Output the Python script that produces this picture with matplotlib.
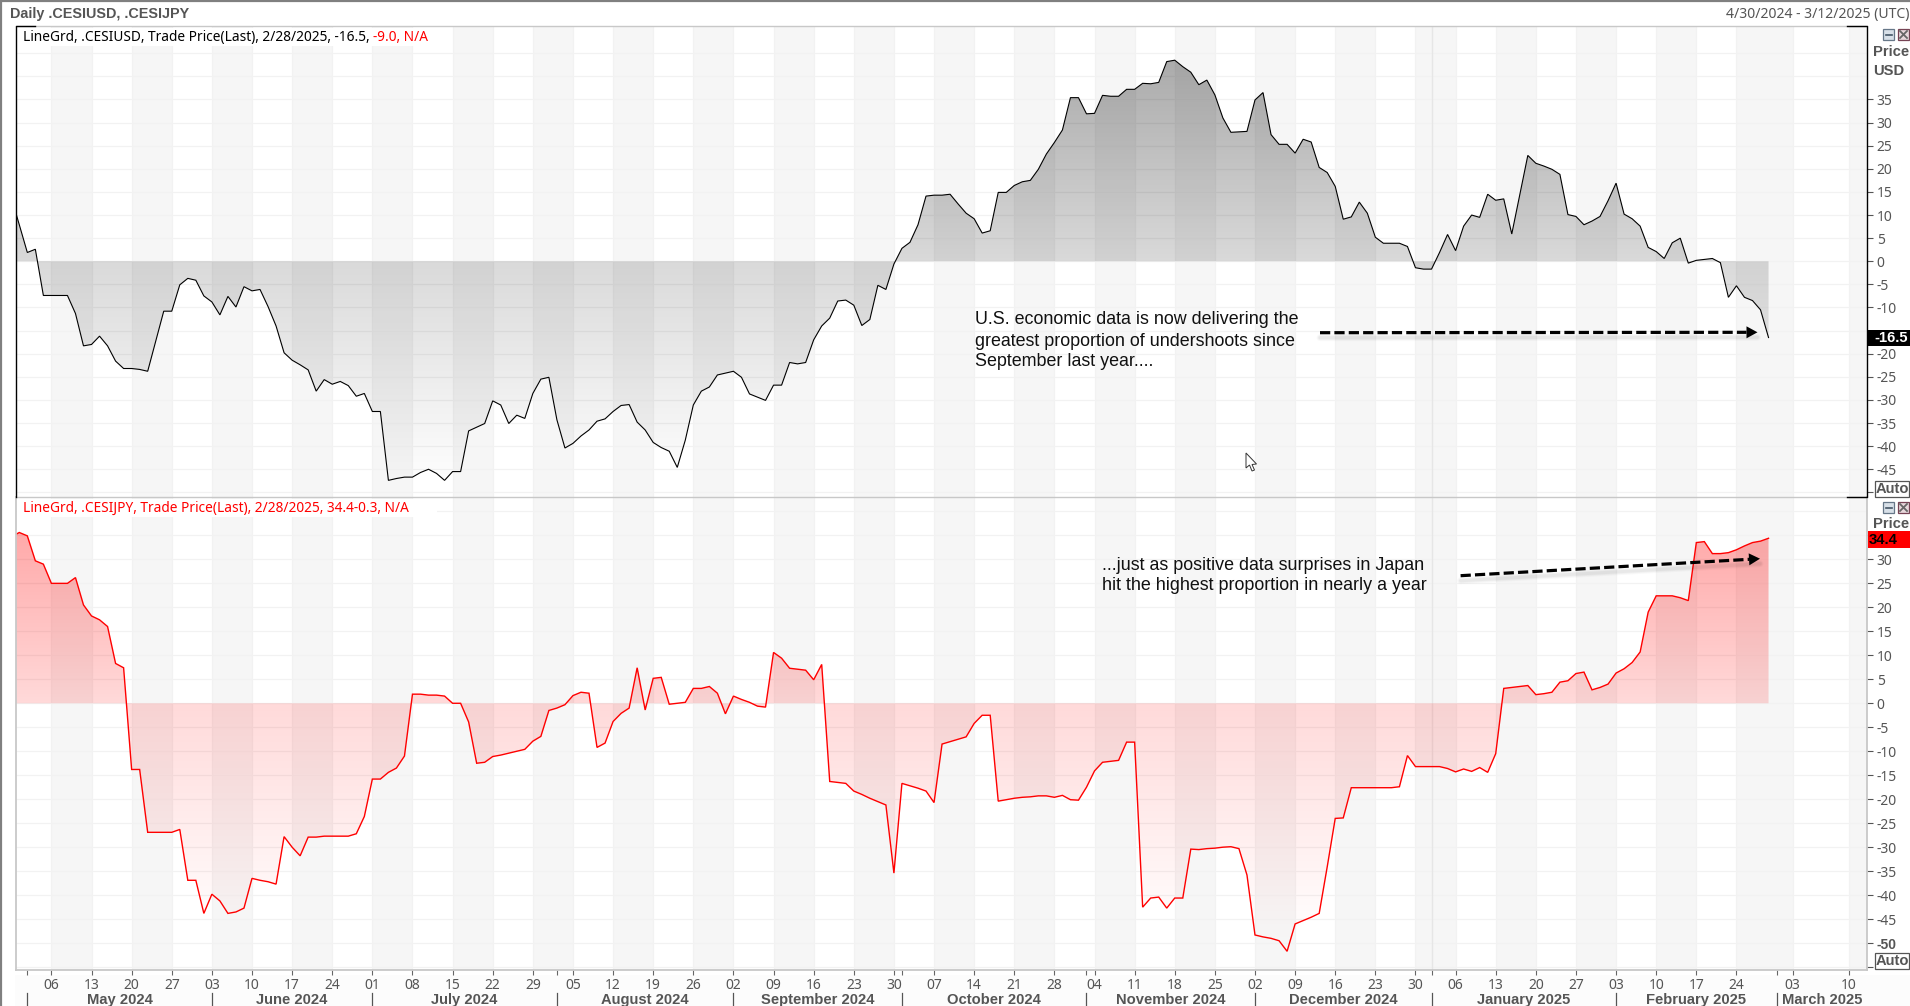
import numpy as np
import pandas as pd
import matplotlib
matplotlib.use("Agg")
import matplotlib.pyplot as plt
from matplotlib.patches import Rectangle, Polygon
from matplotlib.transforms import blended_transform_factory

plt.rcParams['font.family'] = ['Noto Sans', 'DejaVu Sans']
BOLD = ['Liberation Sans', 'DejaVu Sans']

W, H = 1910, 1006
dates = pd.bdate_range('2024-04-29', '2025-02-28')
last_date = dates[-1]

usd_values = [
 13.8, 7.9, 1.9, 2.6, -7.4, -7.4, -7.4, -7.4, -11.3, -18.3, -18.0, -16.2, -18.3, -21.6, -23.2, -23.2,
 -23.4, -23.8, -17.3, -10.8, -10.8, -5.1, -3.7, -4.1, -7.5, -8.8, -11.6, -7.6, -9.9, -5.5, -6.4, -6.1,
 -9.8, -14.0, -19.8, -21.4, -22.4, -23.5, -28.1, -25.6, -26.6, -26.0, -26.9, -29.2, -28.6, -32.5, -32.5, -47.4,
 -47.0, -46.7, -46.7, -45.7, -45.0, -45.9, -47.4, -45.5, -45.5, -36.7, -35.9, -35.1, -30.2, -31.1, -35.1, -33.3,
 -34.0, -28.6, -25.5, -25.1, -34.3, -40.4, -39.4, -37.8, -36.5, -34.6, -34.1,
 -32.5, -31.2, -31.0, -34.8, -36.5, -39.2, -40.3, -41.1, -44.6, -38.7, -31.1, -28.1, -27.2, -24.6, -24.2, -23.8,
 -25.1, -28.7, -29.4, -30.1, -26.8, -26.8, -21.9, -22.2, -21.9, -17.0, -14.0, -12.3, -8.6, -8.4, -9.5, -13.9,
 -12.6, -5.2, -6.1, -0.6, 2.8, 4.1, 7.9, 14.1, 14.3, 14.3, 14.5, 12.4, 10.4, 9.2, 6.1, 6.6,
 14.9, 14.9, 16.4, 17.2, 17.5, 19.9, 23.2, 25.7, 28.4, 35.4, 35.4, 31.9, 32.0, 35.9, 35.7, 35.7,
 37.2, 37.2, 38.5, 38.4, 38.7, 43.2, 43.5, 42.1, 40.9, 38.2, 39.2, 36.0, 31.0, 27.9, 28.0, 28.1,
 34.9, 36.5, 27.4, 25.3, 25.3, 23.4, 26.4, 25.8, 20.3, 19.2, 16.2, 9.1, 9.6, 12.8, 10.4, 5.2,
 3.9, 3.9, 3.9, 3.2, -1.4, -1.7, -1.7, 1.9, 5.8, 2.3, 7.6, 10.0, 9.5, 14.5, 13.2, 13.5,
 5.9, 14.4, 22.9, 21.2, 20.6, 19.9, 18.8, 10.1, 9.7, 7.9, 8.7, 9.7, 13.1, 16.9, 10.2, 9.2,
 7.6, 3.0, 2.1, 0.6, 4.0, 5.0, -0.4, 0.2, 0.4, 0.6, -0.3, -7.8, -5.3, -7.8, -8.5, -10.5, -16.5,
]

jpy_values = [
 34.7, 35.6, 34.9, 29.7, 29.0, 25.0, 25.0, 25.0, 26.2, 20.5, 18.2, 17.4, 16.0, 8.3, 7.4, -13.8,
 -13.8, -26.9, -26.9, -26.9, -26.9, -26.3, -36.9, -36.9, -43.8, -39.8, -41.2, -43.8, -43.5, -42.7, -36.5, -36.9,
 -37.2, -37.7, -27.8, -30.0, -31.8, -27.9, -27.9, -27.7, -27.7, -27.7, -27.7, -27.2, -23.6, -15.8, -15.8, -14.4,
 -13.5, -11.0, 1.9, 1.9, 1.7, 1.7, 1.5, 0.0, 0.0, -3.9, -12.5, -12.3, -11.1, -10.8, -10.4, -10.0,
 -9.6, -7.9, -6.9, -1.5, -1.0, -0.3, 1.6, 2.3, 2.1, -9.2, -8.3,
 -3.8, -2.1, -1.0, 7.4, -1.4, 5.2, 5.4, -0.2, 0.0, 0.2, 3.1, 3.1, 3.5, 2.1, -2.2, 1.5,
 0.8, 0.2, -0.6, -0.8, 10.6, 9.4, 7.3, 7.1, 6.9, 4.9, 8.1, -16.3, -16.5, -16.7, -18.3, -19.0,
 -19.8, -20.5, -21.2, -35.4, -16.7, -17.2, -17.7, -18.3, -20.7, -8.5, -8.0, -7.5, -7.0, -4.2, -2.5, -2.5,
 -20.4, -20.1, -19.8, -19.6, -19.5, -19.3, -19.3, -19.6, -19.2, -20.1, -20.2, -17.5, -14.1, -12.3, -12.1, -11.9,
 -8.1, -8.1, -42.5, -40.6, -40.4, -42.7, -40.6, -40.6, -30.4, -30.5, -30.3, -30.2, -30.0, -29.9, -30.3, -35.8,
 -48.3, -48.7, -49.0, -49.5, -51.7, -46.0, -45.3, -44.6, -43.8, -34.1, -24.0, -23.9, -17.6, -17.6, -17.6, -17.6,
 -17.6, -17.6, -17.4, -10.9, -13.2, -13.2, -13.2, -13.2, -13.6, -14.3, -13.7, -14.2, -13.4, -14.4, -10.5, 3.1,
 3.3, 3.5, 3.7, 1.8, 2.0, 2.3, 4.4, 4.7, 6.2, 6.5, 2.8, 3.3, 4.0, 6.3, 7.2, 8.5,
 10.7, 19.0, 22.4, 22.4, 22.4, 22.0, 21.4, 33.5, 33.7, 31.2, 31.2, 31.4, 32.0, 32.8, 33.5, 33.8, 34.4,
]

usd_ticks = list(range(35, -46, -5))
jpy_ticks = list(range(30, -51, -5))
usd_grid = list(range(45, -51, -5))
jpy_grid = list(range(40, -56, -5))
week_mondays = pd.date_range('2024-05-06', '2025-03-10', freq='W-MON')
month_starts = ['2024-05-01', '2024-06-03', '2024-07-01', '2024-08-01', '2024-09-02', '2024-10-01',
                '2024-11-01', '2024-12-02', '2025-01-01', '2025-02-03', '2025-03-01']
month_names = ['May 2024', 'June 2024', 'July 2024', 'August 2024', 'September 2024', 'October 2024',
               'November 2024', 'December 2024', 'January 2025', 'February 2025', 'March 2025']

assert len(usd_values) == len(dates), len(usd_values)
assert len(jpy_values) == len(dates), len(jpy_values)


def xpos(d):
    """Business-day index up to the last trade date; calendar days in the future part."""
    d = pd.Timestamp(d)
    n = len(dates) - 2
    if d <= last_date:
        return np.busday_count(np.datetime64('2024-04-30'), d.to_datetime64().astype('datetime64[D]'))
    return n + (d - last_date).days


X0_PX, DX_PX = 19.3, 8.024
PL, PR = 15.5, 1867.0
XLIM = ((PL - X0_PX) / DX_PX, (PR - X0_PX) / DX_PX)

fig = plt.figure(figsize=(W / 100, H / 100), dpi=100, facecolor='white')

bg = fig.add_axes([0, 0, 1, 1], zorder=-1)
bg.set_xlim(0, W)
bg.set_ylim(H, 0)
bg.axis('off')
bg.add_patch(Rectangle((15, 975), W - 15, 31, color='#fcfcfc', lw=0))


def px_axes(l, t, r, b):
    return fig.add_axes([l / W, 1 - b / H, (r - l) / W, (b - t) / H])


x = np.arange(len(dates)) - 1.0
panels = [
    (px_axes(PL, 26, PR, 497), usd_values, (-51.0, 50.9), usd_grid, usd_ticks, '#000000', (0, 0, 0), 0.8, 0.33),
    (px_axes(PL, 497, PR, 970), jpy_values, (-55.6, 43.0), jpy_grid, jpy_ticks, '#ff0000', (1, 0, 0), 1.0, 0.38),
]
week_pos = [xpos(d) for d in week_mondays]
GREY = '#555555'
for ax, vals, ylim, grid, ticks, col, rgb, lw, top_alpha in panels:
    ax.set_facecolor('white')
    for a, b in zip(week_pos[0::2], week_pos[1::2] + [XLIM[1]]):
        ax.axvspan(a, b, color='#f6f6f6', lw=0, zorder=0)
    for g in grid:
        ax.axhline(g, color='#f2f2f2', lw=0.85, zorder=0.5)
    for p in week_pos:
        ax.axvline(p, color='#f2f2f2', lw=0.85, zorder=0.5)
    ax.axvline(xpos('2025-01-01'), color='#e6e6e6', lw=1.0, zorder=0.6)
    poly = ax.fill_between(x, vals, 0, facecolor='none', edgecolor='none')
    levels = np.linspace(ylim[1], ylim[0], 600)
    rgba = np.zeros((600, 1, 4))
    rgba[..., :3] = rgb
    rgba[:, 0, 3] = np.interp(levels, [-50, 0, 43], [0.0, 0.15, top_alpha])
    im = ax.imshow(rgba, extent=[XLIM[0], XLIM[1], ylim[0], ylim[1]], origin='upper', aspect='auto', zorder=2)
    im.set_clip_path(poly.get_paths()[0], ax.transData)
    ax.plot(x, vals, color=col, lw=lw, zorder=3, solid_joinstyle='miter')
    ax.set_xlim(*XLIM)
    ax.set_ylim(*ylim)
    ax.yaxis.tick_right()
    ax.tick_params(axis='y', length=4, width=0.8, color=GREY, labelcolor=GREY, labelsize=10, pad=3)
    for s in ax.spines.values():
        s.set_visible(False)
    ax.set_xticks([])

ax_u, ax_j = panels[0][0], panels[1][0]
ax_j.set_yticks(list(range(35, -56, -5)),
                [''] + [str(t) for t in jpy_ticks] + [''])
ax_u.set_yticks(list(range(35, -51, -5)),
                ['' if t == -15 else str(t) for t in usd_ticks] + [''])
for lab in ax_j.get_yticklabels():
    if lab.get_text() == '-50':
        lab.set_fontweight('bold')
        lab.set_family(BOLD)

ax_j.set_xticks(week_pos, [d.strftime('%d') for d in week_mondays])
month_pos = [xpos(m) for m in month_starts]
ax_j.set_xticks(month_pos, minor=True)
ax_j.tick_params(axis='x', which='both', length=3.6, width=0.8, color='#666666', labelcolor=GREY,
                 labelsize=10, pad=2)

ov = fig.add_axes([0, 0, 1, 1], zorder=10)
ov.set_xlim(0, W)
ov.set_ylim(H, 0)
ov.axis('off')
ov.patch.set_alpha(0)

# window border
ov.plot([0.7, 0.7], [0, H], color='#808080', lw=1.6, zorder=1)
ov.plot([0, W], [0.7, 0.7], color='#808080', lw=1.6, zorder=1)

# panel frames
LG = '#c8c8c8'
ov.plot([PL, PR], [26, 26], color=LG, lw=1.0)
ov.plot([PL, PR], [497, 497], color=LG, lw=1.0)
ov.plot([PL, PL], [497, 970], color=LG, lw=1.3)
ov.plot([PL, PR], [970, 970], color=LG, lw=1.3)
ov.plot([PR, PR], [497, 970], color=LG, lw=1.3)
ov.plot([PL, PL, 35], [497, 26, 26], color='black', lw=1.0)
ov.plot([1847, PR, PR, 1847], [26, 26, 497, 497], color='black', lw=1.0)

# month separators and labels
trans = blended_transform_factory(ax_j.transData, ov.transData)
for p in month_pos:
    ov.plot([p, p], [993, H], color='#555555', lw=0.9, transform=trans, clip_on=False)
edges = month_pos + [XLIM[1]]
for name, a, b in zip(month_names, edges[:-1], edges[1:]):
    ov.text((a + b) / 2, 1000, name, transform=trans, ha='center', va='center', fontsize=10.6,
            fontweight='bold', family=BOLD, color='#555555')

# header texts
ov.text(10, 14, 'Daily .CESIUSD, .CESIJPY', ha='left', va='center', fontsize=10.4, fontweight='bold',
        family=BOLD, color=GREY)
ov.text(1909, 14, '4/30/2024 - 3/12/2025 (UTC)', ha='right', va='center', fontsize=10.1, color=GREY)


def legend(y, parts):
    ov.add_patch(Rectangle((16.5, y - 9), 420, 18, color='white', lw=0, zorder=1))
    xp = 23
    for s, c in parts:
        t = ov.text(xp, y, s, ha='left', va='center', fontsize=9.85, color=c, zorder=2)
        xp += t.get_window_extent(renderer=fig.canvas.get_renderer()).width


legend(37, [('LineGrd, .CESIUSD, Trade Price(Last), 2/28/2025, -16.5,\u00a0', 'black'), ('-9.0, N/A', 'red')])
legend(508, [('LineGrd, .CESIJPY, Trade Price(Last), 2/28/2025, 34.4-0.3, N/A', 'red')])

# right-hand labels
for txt, y in [('Price', 52), ('USD', 71), ('Price', 524)]:
    ov.text(1873, y, txt, ha='left', va='center', fontsize=10.6, fontweight='bold', family=BOLD, color=GREY)
ov.add_patch(Rectangle((1868, 330), 42, 16, color='black', lw=0, zorder=3))
ov.text(1908, 338, '-16.5', ha='right', va='center', fontsize=10.6, fontweight='bold', family=BOLD,
        color='white', zorder=4)
ov.add_patch(Rectangle((1868, 531), 42, 17, color='#ff0000', lw=0, zorder=3))
ov.text(1869, 540, '34.4', ha='left', va='center', fontsize=10.6, fontweight='bold', family=BOLD,
        color='black', zorder=4)
for (a, b) in [(481, 497), (953, 969)]:
    ov.add_patch(Rectangle((1875, a), 34, b - a, facecolor='white', edgecolor='#555555', lw=0.9, zorder=3))
    ov.text(1892, (a + b) / 2, 'Auto', ha='center', va='center', fontsize=10.6, fontweight='bold', family=BOLD,
            color=GREY, zorder=4)

# panel window buttons
for yc in (34.5, 507.5):
    ov.add_patch(Rectangle((1883, yc - 5.5), 11, 11, facecolor='#d8e0e8', edgecolor='#667788', lw=0.9))
    ov.plot([1885.5, 1891.5], [yc, yc], color='#445566', lw=1.2)
    ov.add_patch(Rectangle((1898, yc - 5.5), 11, 11, facecolor='#e8d8dc', edgecolor='#774455', lw=0.9))
    ov.plot([1900, 1907], [yc - 3.5, yc + 3.5], color='#666666', lw=1.3)
    ov.plot([1900, 1907], [yc + 3.5, yc - 3.5], color='#666666', lw=1.3)

# annotations
FONT = ['Liberation Sans', 'DejaVu Sans']
for txt, y in [('U.S. economic data is now delivering the', 320), ('greatest proportion of undershoots since', 341),
               ('September last year....', 362)]:
    ov.text(974.5, y, txt, ha='left', va='center', fontsize=12.85, family=FONT, color='#111111')
for txt, y in [('...just as positive data surprises in Japan', 565), ('hit the highest proportion in nearly a year', 586)]:
    ov.text(1102, y, txt, ha='left', va='center', fontsize=12.85, family=FONT, color='#111111')


def dashed_arrow(x0, y0, x1, y1):
    dx, dy = x1 - x0, y1 - y0
    L = np.hypot(dx, dy)
    ux, uy = dx / L, dy / L
    bx, by = x1 - 11 * ux, y1 - 11 * uy
    for w, a in [(5.0, 0.025), (3.5, 0.03), (2.2, 0.035)]:
        ov.plot([x0, x1], [y0 + 5, y1 + 5], color='black', alpha=a, lw=w, solid_capstyle='round', zorder=4)
    ov.plot([x0, bx], [y0, by], color='black', lw=2.3, dashes=(3.2, 1.3), dash_capstyle='butt', zorder=5)
    ov.add_patch(Polygon([(x1, y1), (bx - uy * 6, by + ux * 6), (bx + uy * 6, by - ux * 6)],
                         closed=True, color='black', lw=0, zorder=5))


dashed_arrow(1320, 332.7, 1757.5, 332.3)
dashed_arrow(1460.6, 575.7, 1760, 558.7)

# mouse pointer captured in the screenshot
cx, cy = 1246, 453
ov.add_patch(Polygon([(cx, cy), (cx, cy + 15), (cx + 3.5, cy + 12), (cx + 6, cy + 18), (cx + 8.5, cy + 17),
                      (cx + 6, cy + 11.5), (cx + 10.5, cy + 11)], closed=True, facecolor='white',
                     edgecolor='#333333', lw=0.7, zorder=6))

fig.savefig('out.png', dpi=100, facecolor='white')
